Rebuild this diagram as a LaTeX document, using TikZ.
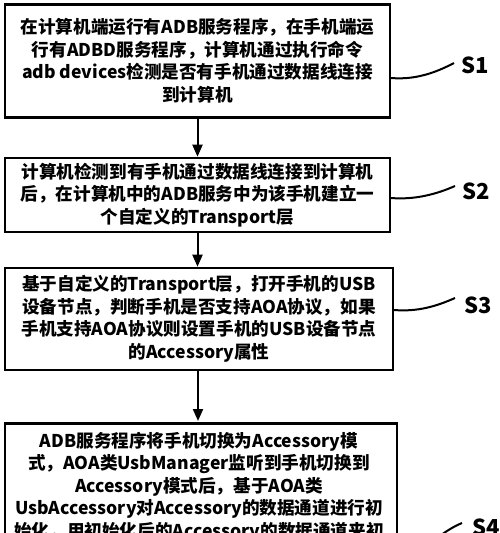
\documentclass[tikz,border=0pt]{standalone}
\usepackage{fontspec}
\setmainfont{Noto Sans CJK SC}[BoldFont={Noto Sans CJK SC Black}]
\usetikzlibrary{arrows.meta}
\begin{document}
\begin{tikzpicture}[x=1pt,y=-1pt,
  stepbox/.style={draw,line width=2.6pt,rectangle,align=center,inner sep=0pt,
    font=\fontsize{17.6}{22.5}\selectfont\bfseries},
  flow/.style={line width=2pt,-{Triangle[length=12pt,width=10pt]}},
  leader/.style={line width=2pt},
  steplabel/.style={font=\fontsize{22}{24}\selectfont\bfseries,inner sep=0pt}]
\useasboundingbox (0,0) rectangle (500,533);
\clip (0,0) rectangle (500,533);
\node[stepbox,minimum width=385,minimum height=113] (b1) at (197.5,61)
  {在计算机端运行有ADB服务程序，在手机端运\\行有ADBD服务程序，计算机通过执行命令\\adb devices检测是否有手机通过数据线连接\\到计算机};
\node[stepbox,minimum width=385,minimum height=74] (b2) at (197.5,195)
  {计算机检测到有手机通过数据线连接到计算机\\后，在计算机中的ADB服务中为该手机建立一\\个自定义的Transport层};
\node[stepbox,minimum width=388,minimum height=102] (b3) at (199,319)
  {基于自定义的Transport层，打开手机的USB\\设备节点，判断手机是否支持AOA协议，如果\\手机支持AOA协议则设置手机的USB设备节点\\的Accessory属性};
\node[stepbox,minimum width=392,minimum height=150,anchor=north,
  text depth=0pt] (b4) at (201,422) {};
\node[font=\fontsize{17.6}{22.5}\selectfont\bfseries,align=center,anchor=north,inner sep=0pt] (t4) at (199,432)
  {ADB服务程序将手机切换为Accessory模\\式，AOA类UsbManager监听到手机切换到\\Accessory模式后，基于AOA类\\UsbAccessory对Accessory的数据通道进行初\\始化，用初始化后的Accessory的数据通道来初};
\draw[flow] (b1.south) -- (b1.south |- b2.north);
\draw[flow] (b2.south) -- (b2.south |- b3.north);
\draw[flow] (198,370) -- (198,421);
\coordinate (l1s) at (391,78);
\coordinate (l1e) at (454,63);
\coordinate (l2s) at (391,198);
\coordinate (l2e) at (455,186);
\coordinate (l3s) at (394,310);
\coordinate (l3e) at (455,298);
\coordinate (l4s) at (432,542);
\coordinate (l4e) at (462,523);
\draw[leader] (l1s) .. controls (415,80) and (435,73) .. (l1e);
\draw[leader] (l2s) .. controls (415,200) and (437,194) .. (l2e);
\draw[leader] (l3s) .. controls (418,312) and (437,306) .. (l3e);
\draw[leader] (l4s) .. controls (442,534) and (452,527) .. (l4e);
\node[steplabel] (s1) at (475,65) {S1};
\node[steplabel] (s2) at (476,191) {S2};
\node[steplabel] (s3) at (478,305) {S3};
\node[steplabel] (s4) at (486,527) {S4};
\end{tikzpicture}
\end{document}
